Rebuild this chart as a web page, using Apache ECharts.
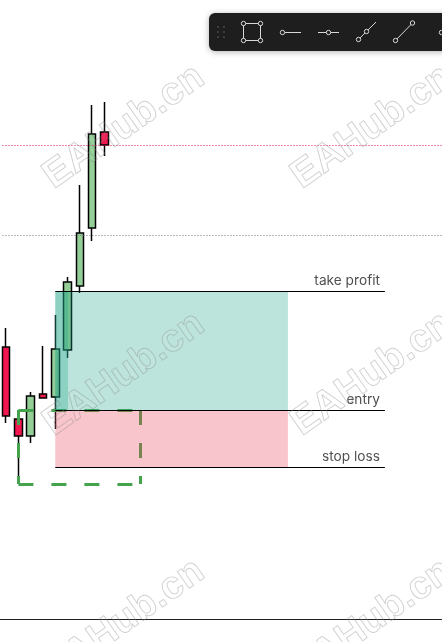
<!DOCTYPE html>
<html>
<head>
<meta charset="utf-8">
<style>html,body{margin:0;padding:0;background:#fff}#c{width:442px;height:642px}</style>
<script src="https://cdn.jsdelivr.net/npm/echarts@6/dist/echarts.min.js"></script>
</head>
<body>
<div id="c"></div>
<script>
// Candles: [open, close, low, high]
const barIndex = ['0','1','2','3','4','5','6','7','8','9','10','11','12','13','14','15','16','17','18','19','20','21','22','23','24','25','26','27','28','29','30','31','32','33','34','35'];
const candles = [
  [272, 203, 196, 291],
  [200, 183, 135, 209],
  [183, 223, 176, 227],
  [225, 221, 221, 273],
  [222, 270, 190, 304],
  [269, 337, 261, 342],
  [333, 386, 326, 434],
  [391, 485, 378, 514],
  [487, 474, 463, 517]
];
const levelNames = ['take profit', 'entry', 'stop loss'];
const levelPrices = [327.5, 208.5, 151.5];
const levelStart = 4;
const levelEnd = 30.85;
const labelEnd = 30.45;
const dottedPrices = [473.5, 383.5];
const dottedColors = ['#e8104a', '#77777f'];
// Zones: [x0, x1, priceHigh, priceLow]
const zones = [
  [4, 22.95, 327.5, 209],
  [4, 5.04, 327.5, 209],
  [4, 22.95, 209, 152]
];
const zoneColors = ['rgba(32,165,138,0.3)', 'rgba(32,165,138,0.3)', 'rgba(235,62,85,0.3)'];
// Dashed risk box: x0, x1, priceTop, priceBottom
const riskBox = [1, 10.95, 209, 135];
const watermark = 'EAHub.cn';
const wmCentersX = [124, 372];
const wmCentersY = [127, 374, 621];

const seg = (a, b, c, d) => ({ coords: [[a, b], [c, d]] });
const [bx0, bx1, bt, bb] = riskBox;

const graphics = [];
wmCentersY.forEach(y => wmCentersX.forEach(x => graphics.push({
  type: 'text', x, y, rotation: 35 * Math.PI / 180, z: 50, silent: true,
  style: { text: watermark, fill: 'rgba(255,255,255,0.05)', stroke: 'rgba(130,130,130,0.38)', lineWidth: 0.9,
    font: '700 39px "Liberation Sans"', align: 'center', verticalAlign: 'middle' }
})));
const tc = '#d8d8d8';
const circle = (cx, cy) => ({ type: 'circle', shape: { cx, cy, r: 2.2 }, z: 62,
  style: { fill: '#1e1e1e', stroke: tc, lineWidth: 1 } });
const line = (x1, y1, x2, y2) => ({ type: 'line', shape: { x1, y1, x2, y2 }, z: 61,
  style: { stroke: tc, lineWidth: 1 } });
graphics.push({ type: 'rect', shape: { x: 209, y: 13, width: 250, height: 38, r: 6 }, z: 60,
  style: { fill: '#1e1e1e', shadowBlur: 6, shadowColor: 'rgba(0,0,0,0.3)', shadowOffsetY: 1 } });
[218, 224].forEach(x => [27, 32, 37].forEach(y => graphics.push({
  type: 'circle', shape: { cx: x, cy: y, r: 1.1 }, z: 61, style: { fill: '#474747' } })));
graphics.push(
  { type: 'rect', shape: { x: 243.5, y: 23.5, width: 17, height: 17 }, z: 61, style: { fill: 'none', stroke: tc, lineWidth: 1 } },
  circle(243.5, 23.5), circle(260.5, 23.5), circle(243.5, 40.5), circle(260.5, 40.5),
  line(282.5, 32.5, 301, 32.5), circle(282.5, 32.5),
  line(318, 32.5, 339, 32.5), circle(328.5, 32.5),
  line(358.5, 39.5, 376, 22), circle(358.5, 39.5), circle(366.5, 31.5),
  line(395.5, 40.5, 412.5, 23), circle(395.5, 40.5), circle(412.5, 23),
  circle(441.5, 32.5)
);

const chart = echarts.init(document.getElementById('c'), null, { renderer: 'canvas' });
chart.setOption({
  animation: false,
  backgroundColor: '#fff',
  graphic: graphics,
  grid: { left: 0, right: 0, top: 0, height: 619 },
  xAxis: [
    { type: 'category', data: barIndex, boundaryGap: true,
      axisLine: { show: true, lineStyle: { color: '#222', width: 1 } },
      axisTick: { show: false }, axisLabel: { show: false }, splitLine: { show: false } },
    { type: 'value', min: -0.5, max: 35.5, show: false, splitLine: { show: false } }
  ],
  yAxis: { type: 'value', min: 0, max: 619, show: false, splitLine: { show: false } },
  series: [
    { type: 'candlestick', data: candles, barWidth: 8, z: 2, xAxisIndex: 0,
      itemStyle: { color: '#93cf97', color0: '#f2184f', borderColor: '#000', borderColor0: '#000', borderWidth: 1.5 } },
    { type: 'lines', coordinateSystem: 'cartesian2d', xAxisIndex: 1, z: 3, polyline: false, silent: true,
      lineStyle: { color: '#45a34e', width: 3, type: [15, 18], opacity: 1 },
      data: [seg(bx0, bt, bx1, bt), seg(bx1, bt, bx1, bb), seg(bx0, bb, bx1, bb), seg(bx0, bt, bx0, bb)] },
    { type: 'custom', xAxisIndex: 1, z: 4, silent: true, data: zones, encode: { x: [0, 1], y: [2, 3] },
      renderItem: (p, api) => {
        const a = api.coord([api.value(0), api.value(2)]);
        const b = api.coord([api.value(1), api.value(3)]);
        return { type: 'rect', shape: { x: a[0], y: a[1], width: b[0] - a[0], height: b[1] - a[1] },
          style: { fill: zoneColors[p.dataIndex] } };
      } },
    { type: 'lines', coordinateSystem: 'cartesian2d', xAxisIndex: 1, z: 5, silent: true,
      lineStyle: { color: '#000', width: 1, opacity: 1 },
      data: levelPrices.map(p => seg(levelStart, p, levelEnd, p)) },
    ...dottedPrices.map((p, i) => ({
      type: 'lines', coordinateSystem: 'cartesian2d', xAxisIndex: 1, z: 6, silent: true,
      lineStyle: { color: dottedColors[i], width: 1, type: [1, 2], opacity: 1 },
      data: [seg(-0.3, p, 35.5, p)] })),
    { type: 'scatter', xAxisIndex: 1, z: 7, symbolSize: 0, silent: true,
      data: levelNames.map((n, i) => ({ name: n, value: [labelEnd, levelPrices[i]] })),
      label: { show: true, position: 'left', distance: 0, offset: [0, -10.5], formatter: '{b}',
        color: '#222', fontFamily: 'Inter', fontSize: 13.7 } }
  ]
});
</script>
</body>
</html>
